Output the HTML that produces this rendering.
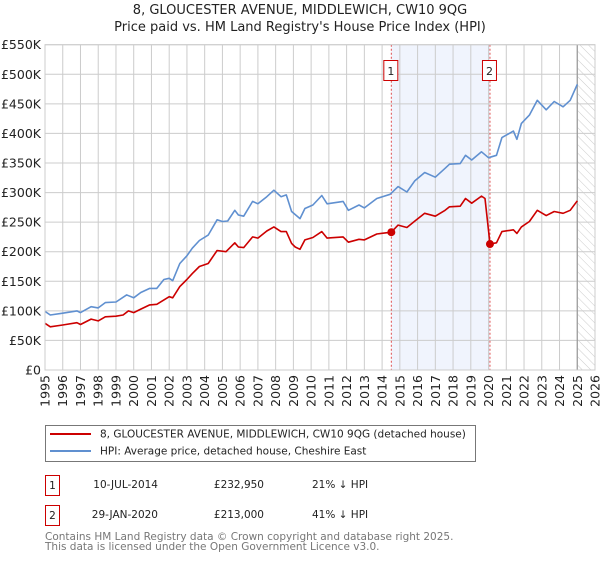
<!DOCTYPE html>
<html><head><meta charset="utf-8"><style>
body{margin:0;background:#fff;}
svg text{font-family:"DejaVu Sans","Liberation Sans",sans-serif;}
</style></head><body>
<svg id="c" width="600" height="560" xmlns="http://www.w3.org/2000/svg">
<defs>
<pattern id="hatch" width="6" height="6" patternUnits="userSpaceOnUse" patternTransform="rotate(-45)">
<line x1="0" y1="0" x2="0" y2="6" stroke="#ccc" stroke-width="1"/>
</pattern>
</defs>
<text x="300" y="14" text-anchor="middle" font-size="13" fill="#222">8, GLOUCESTER AVENUE, MIDDLEWICH, CW10 9QG</text>
<text x="300" y="31" text-anchor="middle" font-size="13" fill="#222">Price paid vs. HM Land Registry's House Price Index (HPI)</text>
<g id="grid"></g>
<g id="marks"></g>
<g id="axes"></g>

<g>
<rect x="45.5" y="425.5" width="430" height="36" fill="#fff" stroke="#777"/>
<line x1="50" y1="434" x2="91" y2="434" stroke="#cc0000" stroke-width="2"/>
<text x="100" y="437.5" font-size="10.5" fill="#222">8, GLOUCESTER AVENUE, MIDDLEWICH, CW10 9QG (detached house)</text>
<line x1="50" y1="451" x2="91" y2="451" stroke="#6090d0" stroke-width="2"/>
<text x="100" y="454.5" font-size="10.5" fill="#222">HPI: Average price, detached house, Cheshire East</text>
</g>
<g>
<rect x="45.5" y="475.5" width="14" height="20" fill="#fff" stroke="#cc0000"/>
<text x="52.5" y="489" text-anchor="middle" font-size="10.5" fill="#222">1</text>
<text x="158" y="488" text-anchor="end" font-size="10.5" fill="#222">10-JUL-2014</text>
<text x="264" y="488" text-anchor="end" font-size="10.5" fill="#222">£232,950</text>
<text x="312" y="488" font-size="10.5" fill="#222">21% ↓ HPI</text>
<rect x="45.5" y="505.5" width="14" height="20" fill="#fff" stroke="#cc0000"/>
<text x="52.5" y="519" text-anchor="middle" font-size="10.5" fill="#222">2</text>
<text x="158" y="518" text-anchor="end" font-size="10.5" fill="#222">29-JAN-2020</text>
<text x="264" y="518" text-anchor="end" font-size="10.5" fill="#222">£213,000</text>
<text x="312" y="518" font-size="10.5" fill="#222">41% ↓ HPI</text>
</g>
<text x="45" y="540" font-size="10.5" fill="#777">Contains HM Land Registry data © Crown copyright and database right 2025.</text>
<text x="45" y="550" font-size="10.5" fill="#777">This data is licensed under the Open Government Licence v3.0.</text>
</svg>
<script>
const hpiYears=[1995,1995.3,1996,1996.8,1997,1997.6,1998,1998.4,1999,1999.6,2000,2000.4,2000.9,2001.3,2001.7,2002,2002.2,2002.6,2003,2003.3,2003.7,2004.2,2004.7,2005,2005.3,2005.7,2005.9,2006.2,2006.7,2007,2007.5,2007.9,2008.3,2008.6,2008.9,2009.37,2009.65,2010.1,2010.6,2010.9,2011.8,2012.1,2012.7,2013,2013.7,2014.45,2014.9,2015.4,2015.85,2016.4,2017,2017.55,2017.8,2018.4,2018.7,2019.05,2019.6,2020,2020.45,2020.75,2021.4,2021.6,2021.85,2022.3,2022.75,2023.25,2023.7,2024.2,2024.6,2025.0];
const hpiValues=[99,93,96,100,97,107,105,114,115,127,122,131,138,138,153,155,151,180,193,206,219,228,254,251,252,270,262,260,285,281,293,304,293,296,268,256,273,279,295,281,285,270,279,274,290,297,310,301,320,334,326,341,348,349,363,355,369,359,363,393,404,390,417,431,456,440,454,445,456,483];
const propYears=[1995,1995.3,1996,1996.8,1997,1997.6,1998,1998.4,1999,1999.4,1999.7,2000,2000.4,2000.9,2001.3,2002,2002.2,2002.6,2003,2003.3,2003.7,2004.2,2004.7,2005.2,2005.7,2005.9,2006.2,2006.7,2007,2007.5,2007.9,2008.3,2008.6,2008.9,2009.1,2009.37,2009.65,2010.1,2010.6,2010.9,2011.8,2012.1,2012.7,2013,2013.7,2014.52,2014.9,2015.4,2015.85,2016.4,2017,2017.55,2017.8,2018.4,2018.7,2019.05,2019.6,2019.8,2020.08,2020.45,2020.75,2021.4,2021.6,2021.85,2022.3,2022.75,2023.25,2023.7,2024.2,2024.6,2025.0];
const propValues=[79,73,76,80,77,86,83,90,91,93,100,97,103,110,111,124,122,141,153,163,175,180,202,200,215,208,207,225,223,235,242,234,234,214,208,204,220,224,234,223,225,216,221,220,230,233,245,241,252,265,260,270,276,277,290,282,294,290,213,215,234,237,231,242,251,270,261,268,265,270,286];
const saleYears=[2014.52,2020.08];
const saleValues=[232.95,213];
const saleLabels=["1","2"];
const yTicks=[0,50,100,150,200,250,300,350,400,450,500,550];
const yTickLabels=["£0","£50K","£100K","£150K","£200K","£250K","£300K","£350K","£400K","£450K","£500K","£550K"];
const xTicks=[1995,1996,1997,1998,1999,2000,2001,2002,2003,2004,2005,2006,2007,2008,2009,2010,2011,2012,2013,2014,2015,2016,2017,2018,2019,2020,2021,2022,2023,2024,2025,2026];

const L=45,R=595,T=44.7,B=370,X0=1995,X1=2026,YMAX=550;
const xs=v=>L+(v-X0)/(X1-X0)*(R-L);
const ys=v=>B-v/YMAX*(B-T);
const NS="http://www.w3.org/2000/svg";
function mk(tag,attrs,parent){const e=document.createElementNS(NS,tag);for(const k in attrs)e.setAttribute(k,attrs[k]);parent.appendChild(e);return e;}
const grid=document.getElementById('grid'),marks=document.getElementById('marks'),axes=document.getElementById('axes');
let band=mk('rect',{x:xs(saleYears[0]),y:T,width:xs(saleYears[1])-xs(saleYears[0]),height:B-T,fill:'#f0f4fd'},grid);


let hatch=mk('rect',{x:xs(2025.0),y:T,width:R-xs(2025.0),height:B-T,fill:'url(#hatch)'},grid);


yTicks.forEach((t,i)=>{
  let g=mk('line',{x1:L,x2:R,y1:ys(t),y2:ys(t),stroke:'#ccc','stroke-width':1},grid);
  
  
  let tx=mk('text',{x:L-4,y:ys(t)+4.5,'text-anchor':'end','font-size':'12.5',fill:'#222'},axes);
  tx.textContent=yTickLabels[i];
  
  
});
xTicks.forEach(t=>{
  let g=mk('line',{x1:xs(t),x2:xs(t),y1:T,y2:B,stroke:'#ccc','stroke-width':1},grid);
  
  
  let tx=mk('text',{x:0,y:0,'text-anchor':'end','font-size':'12.5',fill:'#222',transform:`translate(${xs(t)+4.5},${B+5}) rotate(-90)`},axes);
  tx.textContent=String(t);
  
  
});
let nowLine=mk('line',{x1:xs(2025.0),x2:xs(2025.0),y1:T,y2:B,stroke:'#999','stroke-width':1.2},grid);


saleYears.forEach((y,i)=>{
  let v=mk('line',{x1:xs(y),x2:xs(y),y1:T,y2:B,stroke:'#e05050','stroke-width':1,'stroke-dasharray':'2,2'},grid);
  
  
});
function path(xa,va,color,name){
  let d=xa.map((x,i)=>(i?'L':'M')+xs(x).toFixed(1)+','+ys(va[i]).toFixed(1)).join('');
  let p=mk('path',{d:d,fill:'none',stroke:color,'stroke-width':1.6,'stroke-linejoin':'round'},marks);
  
  
}
path(hpiYears,hpiValues,'#6090d0','hpi-line');
path(propYears,propValues,'#cc0000','property-line');
saleYears.forEach((y,i)=>{
  let c=mk('circle',{cx:xs(y),cy:ys(saleValues[i]),r:4,fill:'#cc0000'},marks);
  
  
  let bx=mk('rect',{x:xs(y)-7.5,y:60.5,width:14,height:20,fill:'#fff',stroke:'#cc0000'},marks);
  
  
  let t=mk('text',{x:xs(y)-0.5,y:75,'text-anchor':'middle','font-size':'11',fill:'#222'},marks);
  t.textContent=saleLabels[i];
  
  
});
let frame=mk('rect',{x:L,y:T,width:R-L,height:B-T,fill:'none',stroke:'#ccc'},axes);


</script>
</body></html>
